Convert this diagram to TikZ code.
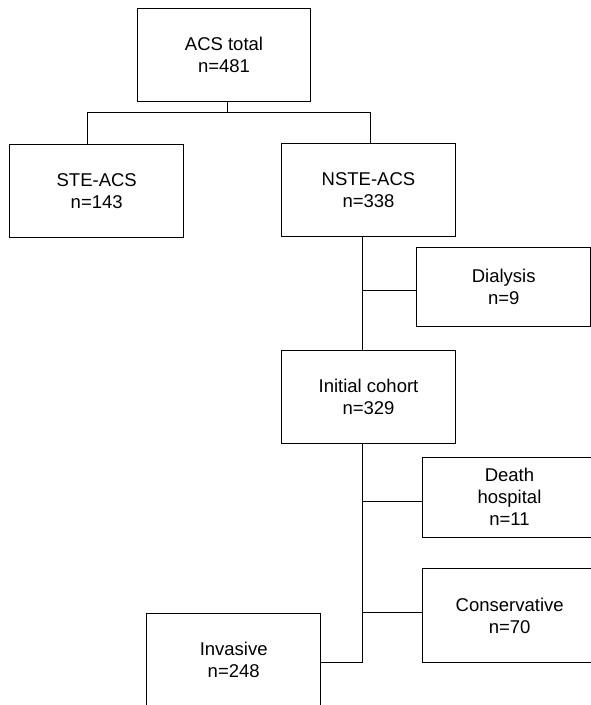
\documentclass[tikz,border=0pt]{standalone}
\usepackage{fontspec}
\setmainfont{Liberation Sans}
\tikzset{
  box/.style={draw, rectangle, line width=1pt, align=center, inner sep=0pt,
    minimum width=173.5pt, minimum height=93pt,
    font=\fontsize{18.5}{22}\selectfont},
  shortbox/.style={box, minimum height=79pt},
  openbox/.style={box, draw=none},
  link/.style={line width=1pt}
}
\begin{document}
\begin{tikzpicture}[x=1pt,y=-1pt]
\useasboundingbox (0,0) rectangle (591,705);

% Boxes
\node[box] (total) at (224,55){ACS total\\n=481};
\node[box] (ste) at (96.7,191.3){STE-ACS\\n=143};
\node[box] (nste) at (368.5,190){NSTE-ACS\\n=338};
\node[shortbox] (dial) at (503.7,287){Dialysis\\n=9};
\node[box] (init) at (368.5,397){Initial cohort\\n=329};
\node[openbox, minimum height=79pt] (death) at (509.5,497.2){Death\\hospital\\n=11};
\node[openbox] (cons) at (509.7,615.7){Conservative\\n=70};
\node[box] (inv) at (233.7,659.7){Invasive\\n=248};

% right side of these two runs off the page
\draw[link] (death.north west) rectangle ([xshift=40pt]death.south east);
\draw[link] (cons.north west) rectangle ([xshift=40pt]cons.south east);

% Junctions
\coordinate (top) at (227.7,112.7);
\coordinate (topL) at (87.3,112.7);
\coordinate (topR) at (370.7,112.7);
\coordinate (jDial) at (362.3,290.7);
\coordinate (jDeath) at (362.3,501.3);
\coordinate (jCons) at (362.3,612.3);
\coordinate (jInv) at (362.3,662.3);

% First split
\draw[link] (top |- total.south) -- (top);
\draw[link] (topL |- ste.north) -- (topL) -- (topR) -- (topR |- nste.north);

% Exclusions
\draw[link] (jDial |- nste.south) -- (jDial |- init.north);
\draw[link] (jDial) -- (jDial -| dial.west);
\draw[link] (jDeath |- init.south) -- (jInv) -- (jInv -| inv.east);
\draw[link] (jDeath) -- (jDeath -| death.west);
\draw[link] (jCons) -- (jCons -| cons.west);
\end{tikzpicture}
\end{document}
